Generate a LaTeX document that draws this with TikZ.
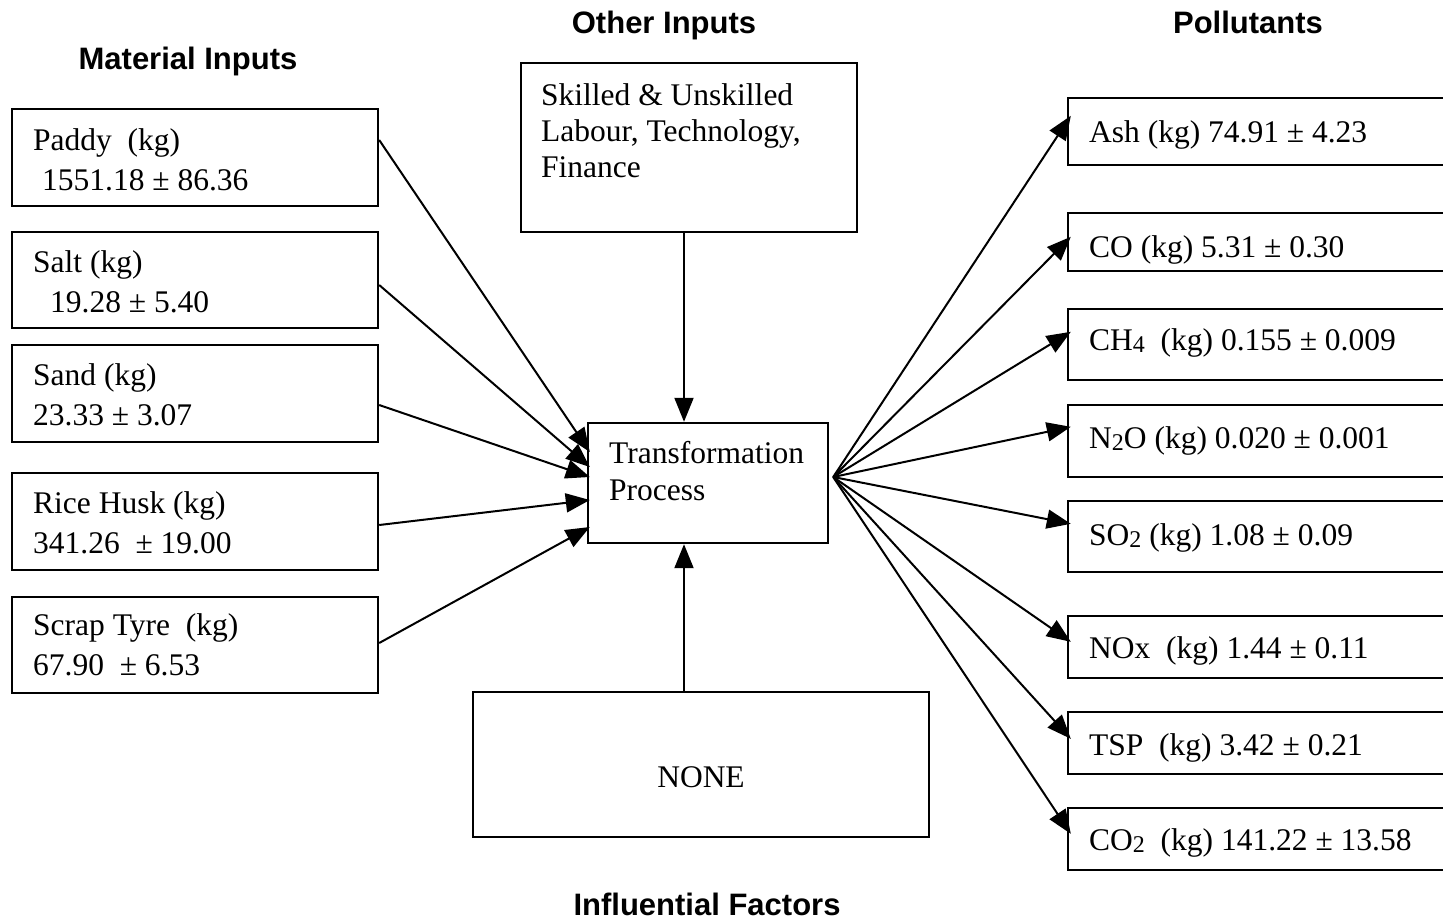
\documentclass[tikz,border=0pt]{standalone}
\usepackage{fontspec}
\setmainfont{Liberation Serif}
\newfontfamily\headfont{Liberation Sans}
\usetikzlibrary{arrows.meta}

% chemical subscripts: smaller digits set a little below the baseline
\newcommand{\chemsub}[1]{\raisebox{-2.5pt}{\fontsize{24}{24}\selectfont #1}}

\begin{document}
\begin{tikzpicture}[x=1pt,y=-1pt,
  box/.style={draw, line width=2.4pt, inner sep=0pt},
  txt/.style={anchor=base west, inner sep=0pt, font=\fontsize{31.5}{37}\selectfont},
  ctxt/.style={anchor=base, inner sep=0pt, font=\fontsize{31.5}{37}\selectfont},
  head/.style={anchor=base, inner sep=0pt, font=\headfont\bfseries\fontsize{31}{37}\selectfont},
  flow/.style={line width=2pt, -{Triangle[length=24pt,width=19pt]}}]

\clip (0,0) rectangle (1443,922);

% section headings
\node[head] (hmat) at (188,69) {Material Inputs};
\node[head] (hoth) at (664,33) {Other Inputs};
\node[head] (hpol) at (1248,33) {Pollutants};
\node[head] (hinf) at (707,915) {Influential Factors};

% material input boxes
\node[box, minimum width=366pt, minimum height=97pt] (paddy) at (195,157.5) {};
\node[box, minimum width=366pt, minimum height=96pt] (salt)  at (195,280) {};
\node[box, minimum width=366pt, minimum height=97pt] (sand)  at (195,393.5) {};
\node[box, minimum width=366pt, minimum height=97pt] (husk)  at (195,521.5) {};
\node[box, minimum width=366pt, minimum height=96pt] (tyre)  at (195,645) {};

\node[txt] (paddyA) at (33,150) {Paddy\ \ (kg)};
\node[txt] (paddyB) at (42,190) {1551.18 ± 86.36};
\node[txt] (saltA)  at (33,272) {Salt (kg)};
\node[txt] (saltB)  at (50,312) {19.28 ± 5.40};
\node[txt] (sandA)  at (33,385) {Sand (kg)};
\node[txt] (sandB)  at (33,425) {23.33 ± 3.07};
\node[txt] (huskA)  at (33,513) {Rice Husk (kg)};
\node[txt] (huskB)  at (33,553) {341.26\ \ ± 19.00};
\node[txt] (tyreA)  at (33,635) {Scrap Tyre\ \ (kg)};
\node[txt] (tyreB)  at (33,675) {67.90\ \ ± 6.53};

% other inputs, process and influential factors
\node[box, minimum width=336pt, minimum height=169pt] (other) at (689,147.5) {};
\node[txt] (otherA) at (541,105) {Skilled \& Unskilled};
\node[txt] (otherB) at (541,141) {Labour, Technology,};
\node[txt] (otherC) at (541,177) {Finance};

\node[box, minimum width=240pt, minimum height=120pt] (trans) at (708,483) {};
\node[txt] (transA) at (609,463) {Transformation};
\node[txt] (transB) at (609,500) {Process};

\node[box, minimum width=456pt, minimum height=145pt] (none) at (701,764.5) {};
\node[ctxt] (noneA) at (701,787) {NONE};

% pollutant boxes (running off the right edge)
\node[box, minimum width=402pt, minimum height=67pt] (ash) at (1269,131.5) {};
\node[box, minimum width=402pt, minimum height=58pt] (co)  at (1269,242) {};
\node[box, minimum width=402pt, minimum height=71pt] (ch4) at (1269,344.5) {};
\node[box, minimum width=402pt, minimum height=72pt] (n2o) at (1269,441) {};
\node[box, minimum width=402pt, minimum height=71pt] (so2) at (1269,536.5) {};
\node[box, minimum width=402pt, minimum height=62pt] (nox) at (1269,647) {};
\node[box, minimum width=402pt, minimum height=62pt] (tsp) at (1269,743) {};
\node[box, minimum width=402pt, minimum height=62pt] (co2) at (1269,839) {};

\node[txt] (ashT) at (1089,142) {Ash (kg) 74.91 ± 4.23};
\node[txt] (coT)  at (1089,257) {CO (kg) 5.31 ± 0.30};
\node[txt] (ch4T) at (1089,350) {CH\chemsub{4}\ \ (kg) 0.155 ± 0.009};
\node[txt] (n2oT) at (1089,448) {N\chemsub{2}O (kg) 0.020 ± 0.001};
\node[txt] (so2T) at (1089,545) {SO\chemsub{2} (kg) 1.08 ± 0.09};
\node[txt] (noxT) at (1089,658) {NOx\ \ (kg) 1.44 ± 0.11};
\node[txt] (tspT) at (1089,755) {TSP\ \ (kg) 3.42 ± 0.21};
\node[txt] (co2T) at (1089,850) {CO\chemsub{2}\ \ (kg) 141.22 ± 13.58};

% inputs into the process
\draw[flow] ([yshift=17.5pt]paddy.east) -- ([xshift=3pt,yshift=31pt]trans.west);
\draw[flow] ([yshift=-5pt]salt.east)    -- ([xshift=3pt,yshift=16pt]trans.west);
\draw[flow] ([yshift=-11.5pt]sand.east) -- ([xshift=3pt,yshift=6pt]trans.west);
\draw[flow] ([yshift=-3.5pt]husk.east)  -- ([xshift=3pt,yshift=-17pt]trans.west);
\draw[flow] ([yshift=2pt]tyre.east)     -- ([xshift=3pt,yshift=-44pt]trans.west);

\draw[flow] ([xshift=-5pt]other.south) -- ([xshift=-24pt]trans.north);
\draw[flow] ([xshift=-17pt]none.north) -- ([xshift=-24pt]trans.south);

% pollutant outputs
\coordinate (hub) at ([xshift=4pt,yshift=6pt]trans.east);
\draw[flow] (hub) -- ([xshift=4pt,yshift=-19pt]ash.north west);
\draw[flow] (hub) -- ([xshift=4pt,yshift=-25pt]co.north west);
\draw[flow] (hub) -- ([xshift=4pt,yshift=-24pt]ch4.north west);
\draw[flow] (hub) -- ([xshift=4pt,yshift=-23pt]n2o.north west);
\draw[flow] (hub) -- ([xshift=4pt,yshift=-24pt]so2.north west);
\draw[flow] (hub) -- ([xshift=4pt,yshift=-27pt]nox.north west);
\draw[flow] (hub) -- ([xshift=4pt,yshift=-28pt]tsp.north west);
\draw[flow] (hub) -- ([xshift=4pt,yshift=-27pt]co2.north west);

\end{tikzpicture}
\end{document}
